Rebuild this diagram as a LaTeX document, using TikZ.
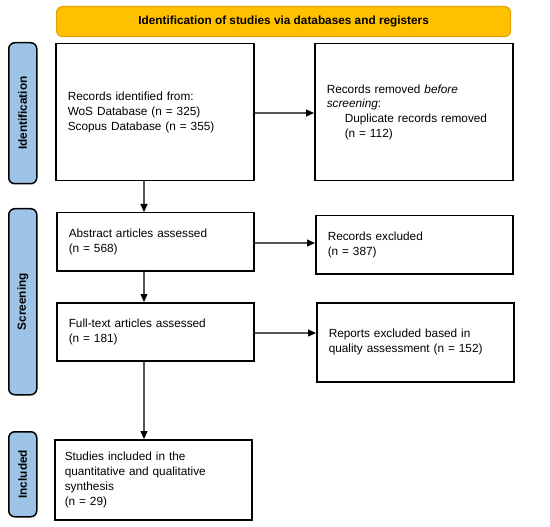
\documentclass[tikz,border=0pt]{standalone}
\usepackage{fontspec}
\setmainfont{Liberation Sans}
\usetikzlibrary{arrows.meta}
\definecolor{bannerfill}{HTML}{FFC000}
\definecolor{bannerdraw}{HTML}{E8A200}
\definecolor{sidefill}{HTML}{9DC3E6}
\definecolor{arrowgray}{HTML}{555555}
\newcommand{\mysz}{\fontsize{11.8}{14.8}\selectfont}
\begin{document}
\begin{tikzpicture}[x=1pt,y=-1pt,
  box/.style={draw=black, line width=1.5pt, fill=white, anchor=north west, inner xsep=12pt, inner ysep=0pt, align=left, font=\mysz},
  side/.style={draw=black, line width=1.5pt, fill=sidefill, rounded corners=6pt, anchor=north west, minimum width=28pt, inner sep=0pt},
  sidelabel/.style={rotate=90, font=\mysz\bfseries},
  flow/.style={draw=arrowgray, line width=1.1pt, -{Triangle[length=8pt,width=7pt,color=black]}}
]
\useasboundingbox (0,0) rectangle (550,527);
% banner
\node[draw=bannerdraw, line width=1.2pt, fill=bannerfill, rounded corners=6pt, anchor=north west,
  minimum width=454pt, minimum height=30pt, inner sep=0pt, font=\mysz\bfseries] (banner) at (56,6)
  {Identification of studies via databases and registers};
% side bars
\node[side, minimum height=141pt] (s1) at (8,42) {};
\node[sidelabel] (s1t) at (s1.center) {Identification};
\node[side, minimum height=186pt] (s2) at (8,208) {};
\node[sidelabel] (s2t) at (s2.center) {Screening};
\node[side, minimum height=85pt] (s3) at (8,431) {};
\node[sidelabel] (s3t) at (s3.center) {Included};
% boxes
\node[box, text width=174pt, minimum height=137pt] (A) at (55,43)
  {Records identified from:\\WoS Database (n = 325)\\Scopus Database (n = 355)};
\node[box, text width=174pt, minimum height=137pt] (B) at (314,43)
  {Records removed \textit{before}\\\textit{screening}:\\\hspace*{18pt}Duplicate records removed\\\hspace*{18pt}(n = 112)};
\node[box, text width=173pt, minimum height=58pt] (C) at (56,212)
  {Abstract articles assessed\\(n = 568)};
\node[box, text width=173pt, minimum height=58pt] (D) at (315,215)
  {Records excluded\\(n = 387)};
\node[box, text width=173pt, minimum height=58pt] (E) at (56,302)
  {Full-text articles assessed\\(n = 181)};
\node[box, text width=173pt, minimum height=79pt] (F) at (316,302)
  {Reports excluded based in\\quality assessment (n = 152)};
\node[box, inner xsep=10pt, text width=177pt, minimum height=80pt] (G) at (54,439)
  {Studies included in the\\quantitative and qualitative\\synthesis\\(n = 29)};
% arrow guides
\coordinate (xv) at (144,0);
\coordinate (y1) at (0,113);
\coordinate (y2) at (0,243);
\coordinate (y3) at (0,333);
% arrows
\draw[flow] (A.south -| xv) -- (C.north -| xv);
\draw[flow] (C.south -| xv) -- (E.north -| xv);
\draw[flow] (E.south -| xv) -- (G.north -| xv);
\draw[flow] (A.east |- y1) -- (B.west |- y1);
\draw[flow] (C.east |- y2) -- (D.west |- y2);
\draw[flow] (E.east |- y3) -- (F.west |- y3);
\end{tikzpicture}
\end{document}
